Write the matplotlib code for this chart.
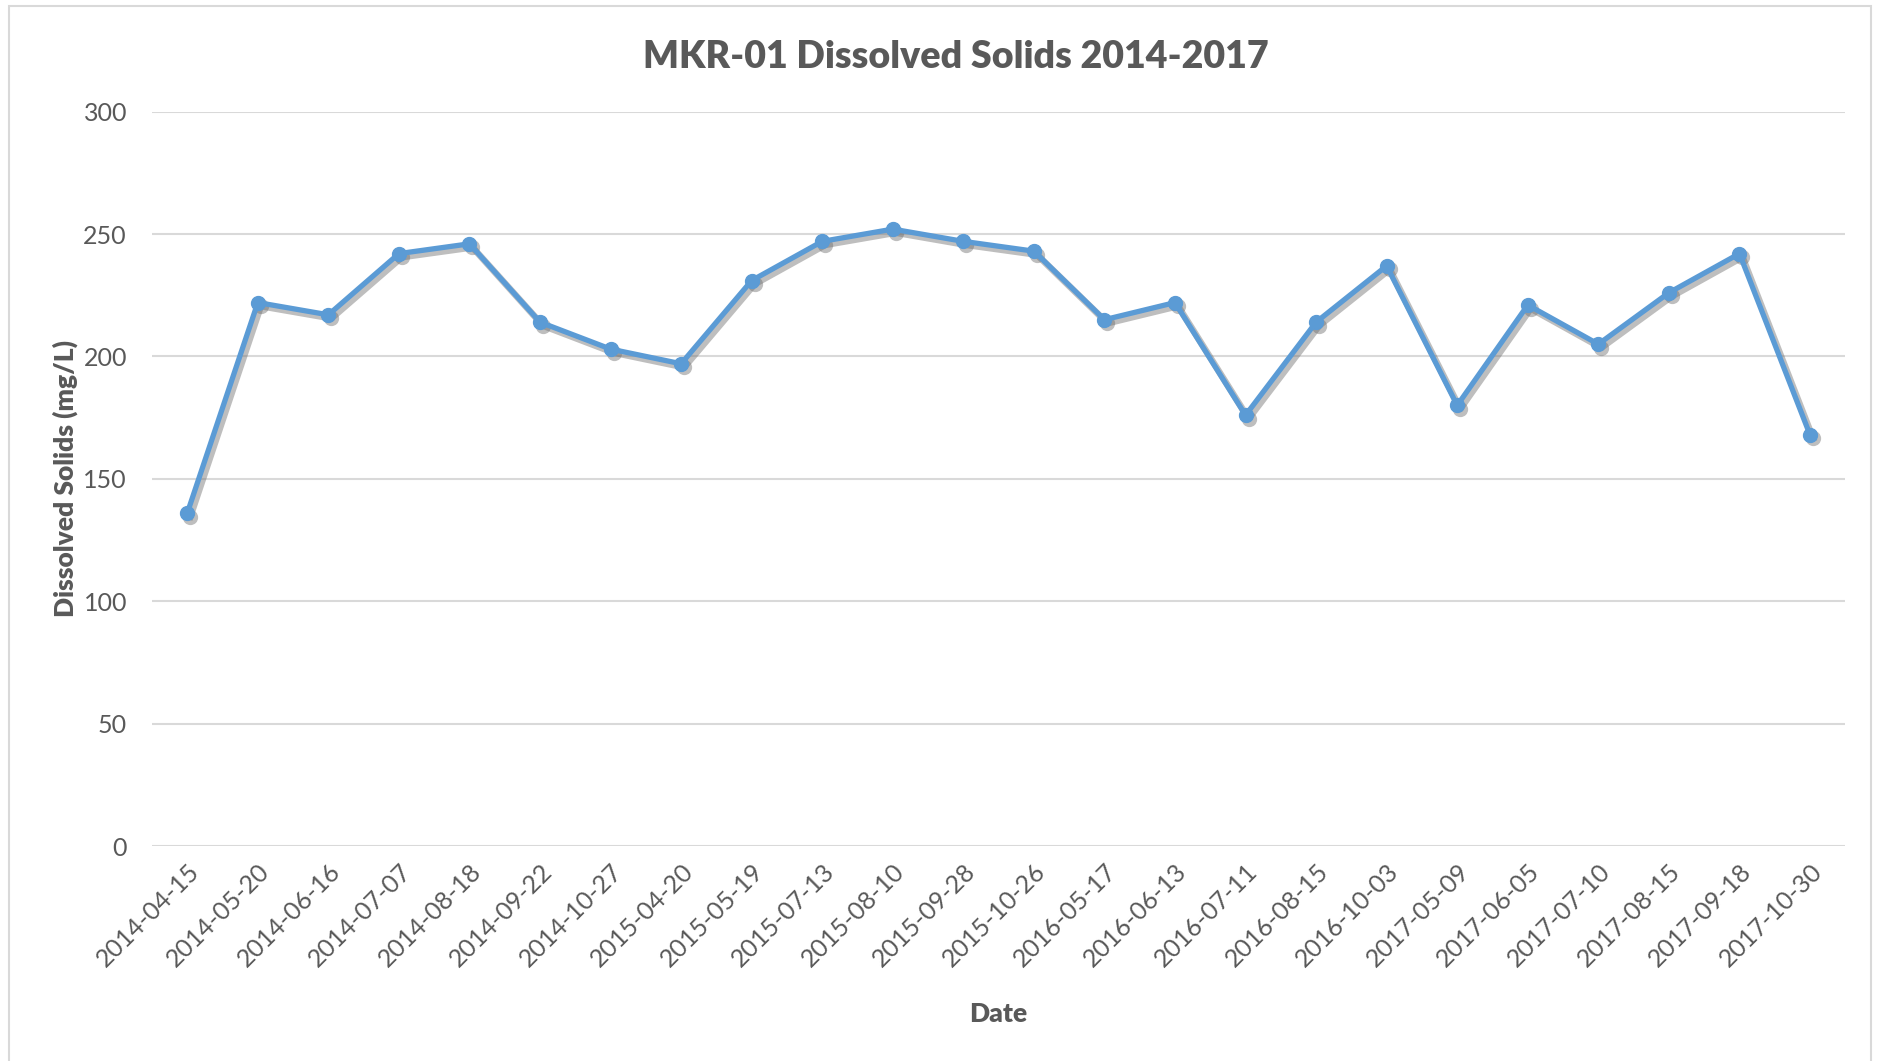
import matplotlib
matplotlib.use("Agg")
import matplotlib.pyplot as plt
import matplotlib.transforms as mtransforms
from matplotlib.patches import Rectangle

dates = ["2014-04-15", "2014-05-20", "2014-06-16", "2014-07-07", "2014-08-18",
         "2014-09-22", "2014-10-27", "2015-04-20", "2015-05-19", "2015-07-13",
         "2015-08-10", "2015-09-28", "2015-10-26", "2016-05-17", "2016-06-13",
         "2016-07-11", "2016-08-15", "2016-10-03", "2017-05-09", "2017-06-05",
         "2017-07-10", "2017-08-15", "2017-09-18", "2017-10-30"]
solids = [136, 222, 217, 242, 246, 214, 203, 197, 231, 247, 252, 247, 243,
          215, 222, 176, 214, 237, 180, 221, 205, 226, 242, 168]
yticks = [0, 50, 100, 150, 200, 250, 300]

plt.rcParams['font.family'] = ['Lato', 'DejaVu Sans']
txt = '#595959'

fig = plt.figure(figsize=(18.81, 10.61), dpi=100)
fig.patches.append(Rectangle((0.0048, -0.02), 0.99, 1.014, transform=fig.transFigure,
                             fill=False, edgecolor='#D9D9D9', linewidth=1.5))
ax = fig.add_axes([0.0808, 0.2026, 0.9002, 0.6922])

x = list(range(len(dates)))
shadow_tr = mtransforms.offset_copy(ax.transData, fig=fig, x=3, y=-3.5, units='dots')
ax.plot(x, solids, color='#6f6f6f', alpha=0.45, linewidth=4.8, marker='o', markersize=11,
        markeredgewidth=0, solid_joinstyle='round', transform=shadow_tr, zorder=2)
ax.plot(x, solids, color='#5B9BD5', linewidth=3.8, marker='o', markersize=10,
        markeredgecolor='#5B9BD5', solid_capstyle='round', solid_joinstyle='round', zorder=3)

ax.set_xlim(-0.5, len(dates) - 0.5)
ax.set_ylim(0, 300)
ax.set_yticks(yticks)
ax.set_xticks(x)
ax.set_xticklabels(dates, rotation=45, ha='right', rotation_mode='anchor')
ax.tick_params(axis='both', length=0, labelsize=18, colors=txt)
ax.tick_params(axis='y', pad=18)
ax.tick_params(axis='x', pad=10)
ax.grid(axis='y', color='#D9D9D9', linewidth=1.5)
ax.set_axisbelow(True)
for s in ax.spines.values():
    s.set_visible(False)

fig.text(0.508, 0.946, 'MKR-01 Dissolved Solids 2014-2017', fontsize=27, fontweight='heavy',
         color=txt, ha='center', va='center')
ax.set_ylabel('Dissolved Solids (mg/L)', fontsize=19, fontweight='heavy', color=txt, labelpad=4)
ax.set_xlabel('Date', fontsize=19, fontweight='heavy', color=txt, labelpad=22)

fig.savefig('out.png', dpi=100)
